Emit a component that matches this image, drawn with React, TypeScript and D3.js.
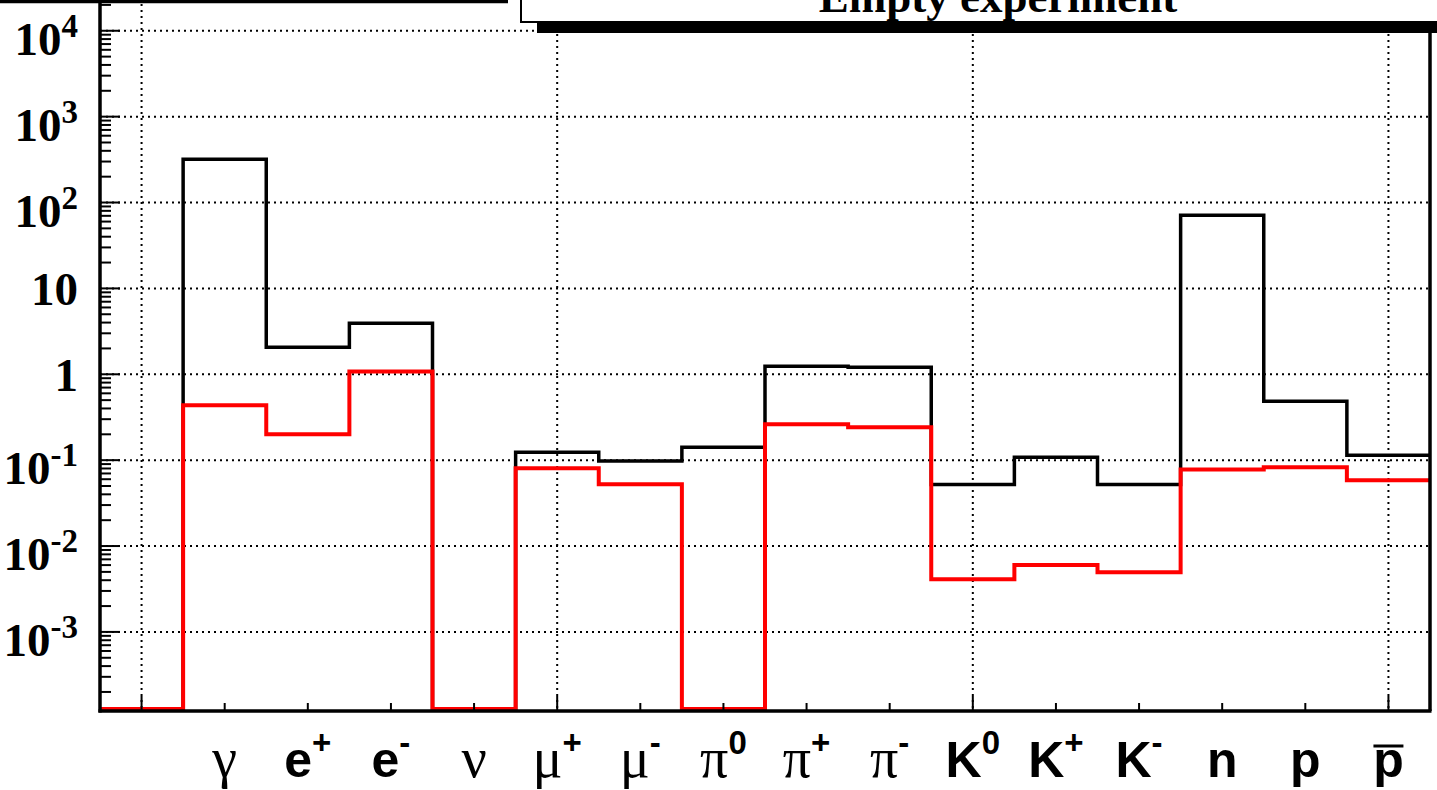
import React from 'react';
import * as d3 from 'd3';

// ---- data ----
const categories = ["", "γ", "e", "e", "ν", "μ", "μ", "π", "π", "π", "K", "K", "K", "n", "p", "p"];
const superscripts = ["", "", "+", "-", "", "+", "-", "0", "+", "-", "0", "+", "-", "", "", ""];
const overlined = [false, false, false, false, false, false, false, false, false, false, false, false, false, false, false, true];
const blackValues = [0, 318, 2.06, 3.92, 0, 0.124, 0.098, 0.141, 1.24, 1.21, 0.052, 0.108, 0.052, 71, 0.485, 0.114];
const redValues = [0, 0.435, 0.2, 1.08, 0, 0.0805, 0.0524, 0, 0.262, 0.241, 0.0041, 0.006, 0.00495, 0.078, 0.0826, 0.0583];
const yTickExponents = [-3, -2, -1, 0, 1, 2, 3, 4];
const majorBins = [0, 5, 10, 15];
const titleText = "Empty experiment";

const W = 1437;
const H = 790;
const left = 100;
const right = 1430;
const bottom = 711;
const top = -20;
const yMin = 1.2e-4;
const yMax = 3.9e4;

const serif = "'Liberation Serif', 'Times New Roman', serif";
const sans = "'Liberation Sans', Arial, Helvetica, sans-serif";

export default function App() {
  const nBins = categories.length;
  const x = d3.scaleLinear().domain([0, nBins]).range([left, right]);
  const y = d3.scaleLog().domain([yMin, yMax]).range([bottom, top]);
  const yv = (v: number) => (v > 0 ? y(v) : y(yMin) - 2);

  const stepPath = (vals: number[]) => {
    const pts: [number, number][] = vals.map((v, i) => [x(i), yv(v)]);
    pts.push([x(nBins), yv(vals[vals.length - 1])]);
    return d3.line().curve(d3.curveStepAfter)(pts) || '';
  };

  const minorTicks: number[] = [];
  for (let e = -4; e <= 4; e++) {
    for (let m = 2; m <= 9; m++) {
      const v = m * Math.pow(10, e);
      if (v > yMin && v < yMax) minorTicks.push(v);
    }
  }
  const majorTicks = yTickExponents.map((e) => Math.pow(10, e));
  const binCenters = d3.range(nBins).map((i) => x(i + 0.5));

  return (
    <svg width={W} height={H} style={{ position: 'absolute', left: 0, top: 0, background: '#fff' }}>
      <rect x={0} y={0} width={W} height={H} fill="#fff" />
      {majorTicks.map((v, i) => (
        <line key={'hg' + i} x1={left} x2={right} y1={y(v)} y2={y(v)} stroke="#000" strokeWidth={2} strokeDasharray="2 4" />
      ))}
      {majorBins.map((b) => (
        <line key={'vg' + b} x1={x(b + 0.5)} x2={x(b + 0.5)} y1={top} y2={bottom} stroke="#000" strokeWidth={2} strokeDasharray="2 4" />
      ))}
      <path d={stepPath(blackValues)} fill="none" stroke="#000" strokeWidth={3.5} />
      <path d={stepPath(redValues)} fill="none" stroke="#ff0000" strokeWidth={4} />
      <line x1={left} x2={left} y1={top} y2={bottom + 1.5} stroke="#000" strokeWidth={3.5} />
      {majorTicks.map((v, i) => (
        <line key={'ymt' + i} x1={left} x2={left + 20} y1={y(v)} y2={y(v)} stroke="#000" strokeWidth={2} />
      ))}
      {minorTicks.map((v, i) => (
        <line key={'ymn' + i} x1={left} x2={left + 11} y1={y(v)} y2={y(v)} stroke="#000" strokeWidth={2} />
      ))}
      {yTickExponents.map((e, i) => {
        const ty = y(Math.pow(10, e));
        if (e === 0 || e === 1) {
          return (
            <text key={'yl' + i} x={78} y={ty + 17} textAnchor="end" fontFamily={serif} fontWeight="bold" fontSize={47}>
              {e === 0 ? '1' : '10'}
            </text>
          );
        }
        return (
          <text key={'yl' + i} x={78} y={ty + 24} textAnchor="end" fontFamily={serif} fontWeight="bold" fontSize={47}>
            10
            <tspan fontSize={33} dy={-18}>{String(e)}</tspan>
          </text>
        );
      })}
      <line x1={left - 1.5} x2={right + 1.5} y1={bottom} y2={bottom} stroke="#000" strokeWidth={3.5} />
      <line x1={right} x2={right} y1={top} y2={bottom} stroke="#000" strokeWidth={3.5} />
      {binCenters.map((cx, i) => (
        <line key={'xt' + i} x1={cx} x2={cx} y1={bottom} y2={bottom - (majorBins.includes(i) ? 15 : 8)} stroke="#000" strokeWidth={2} />
      ))}
      {categories.map((c, i) => {
        if (!c) return null;
        const greek = /[\u0370-\u03ff]/.test(c);
        const sup = superscripts[i];
        const cx = binCenters[i];
        return (
          <g key={'xl' + i}>
            <text x={cx} y={777} textAnchor="middle" fontFamily={greek ? serif : sans} fontWeight={greek ? 'normal' : 'bold'} fontSize={greek ? 56 : 50}>
              {c}
              {sup ? (
                <tspan fontFamily={sans} fontWeight="bold" fontSize={33} dy={-23}>{sup}</tspan>
              ) : null}
            </text>
            {overlined[i] ? (
              <line x1={cx - 15} x2={cx + 15} y1={746} y2={746} stroke="#000" strokeWidth={3} />
            ) : null}
          </g>
        );
      })}
      <line x1={0} x2={508} y1={1.5} y2={1.5} stroke="#000" strokeWidth={3.5} />
      <rect x={537} y={22} width={W - 537} height={11} fill="#000" />
      <rect x={521} y={-20} width={W} height={42} fill="#fff" stroke="#000" strokeWidth={2} />
      <text x={998} y={12} textAnchor="middle" fontFamily={serif} fontWeight="bold" fontSize={45}>
        {titleText}
      </text>
    </svg>
  );
}
